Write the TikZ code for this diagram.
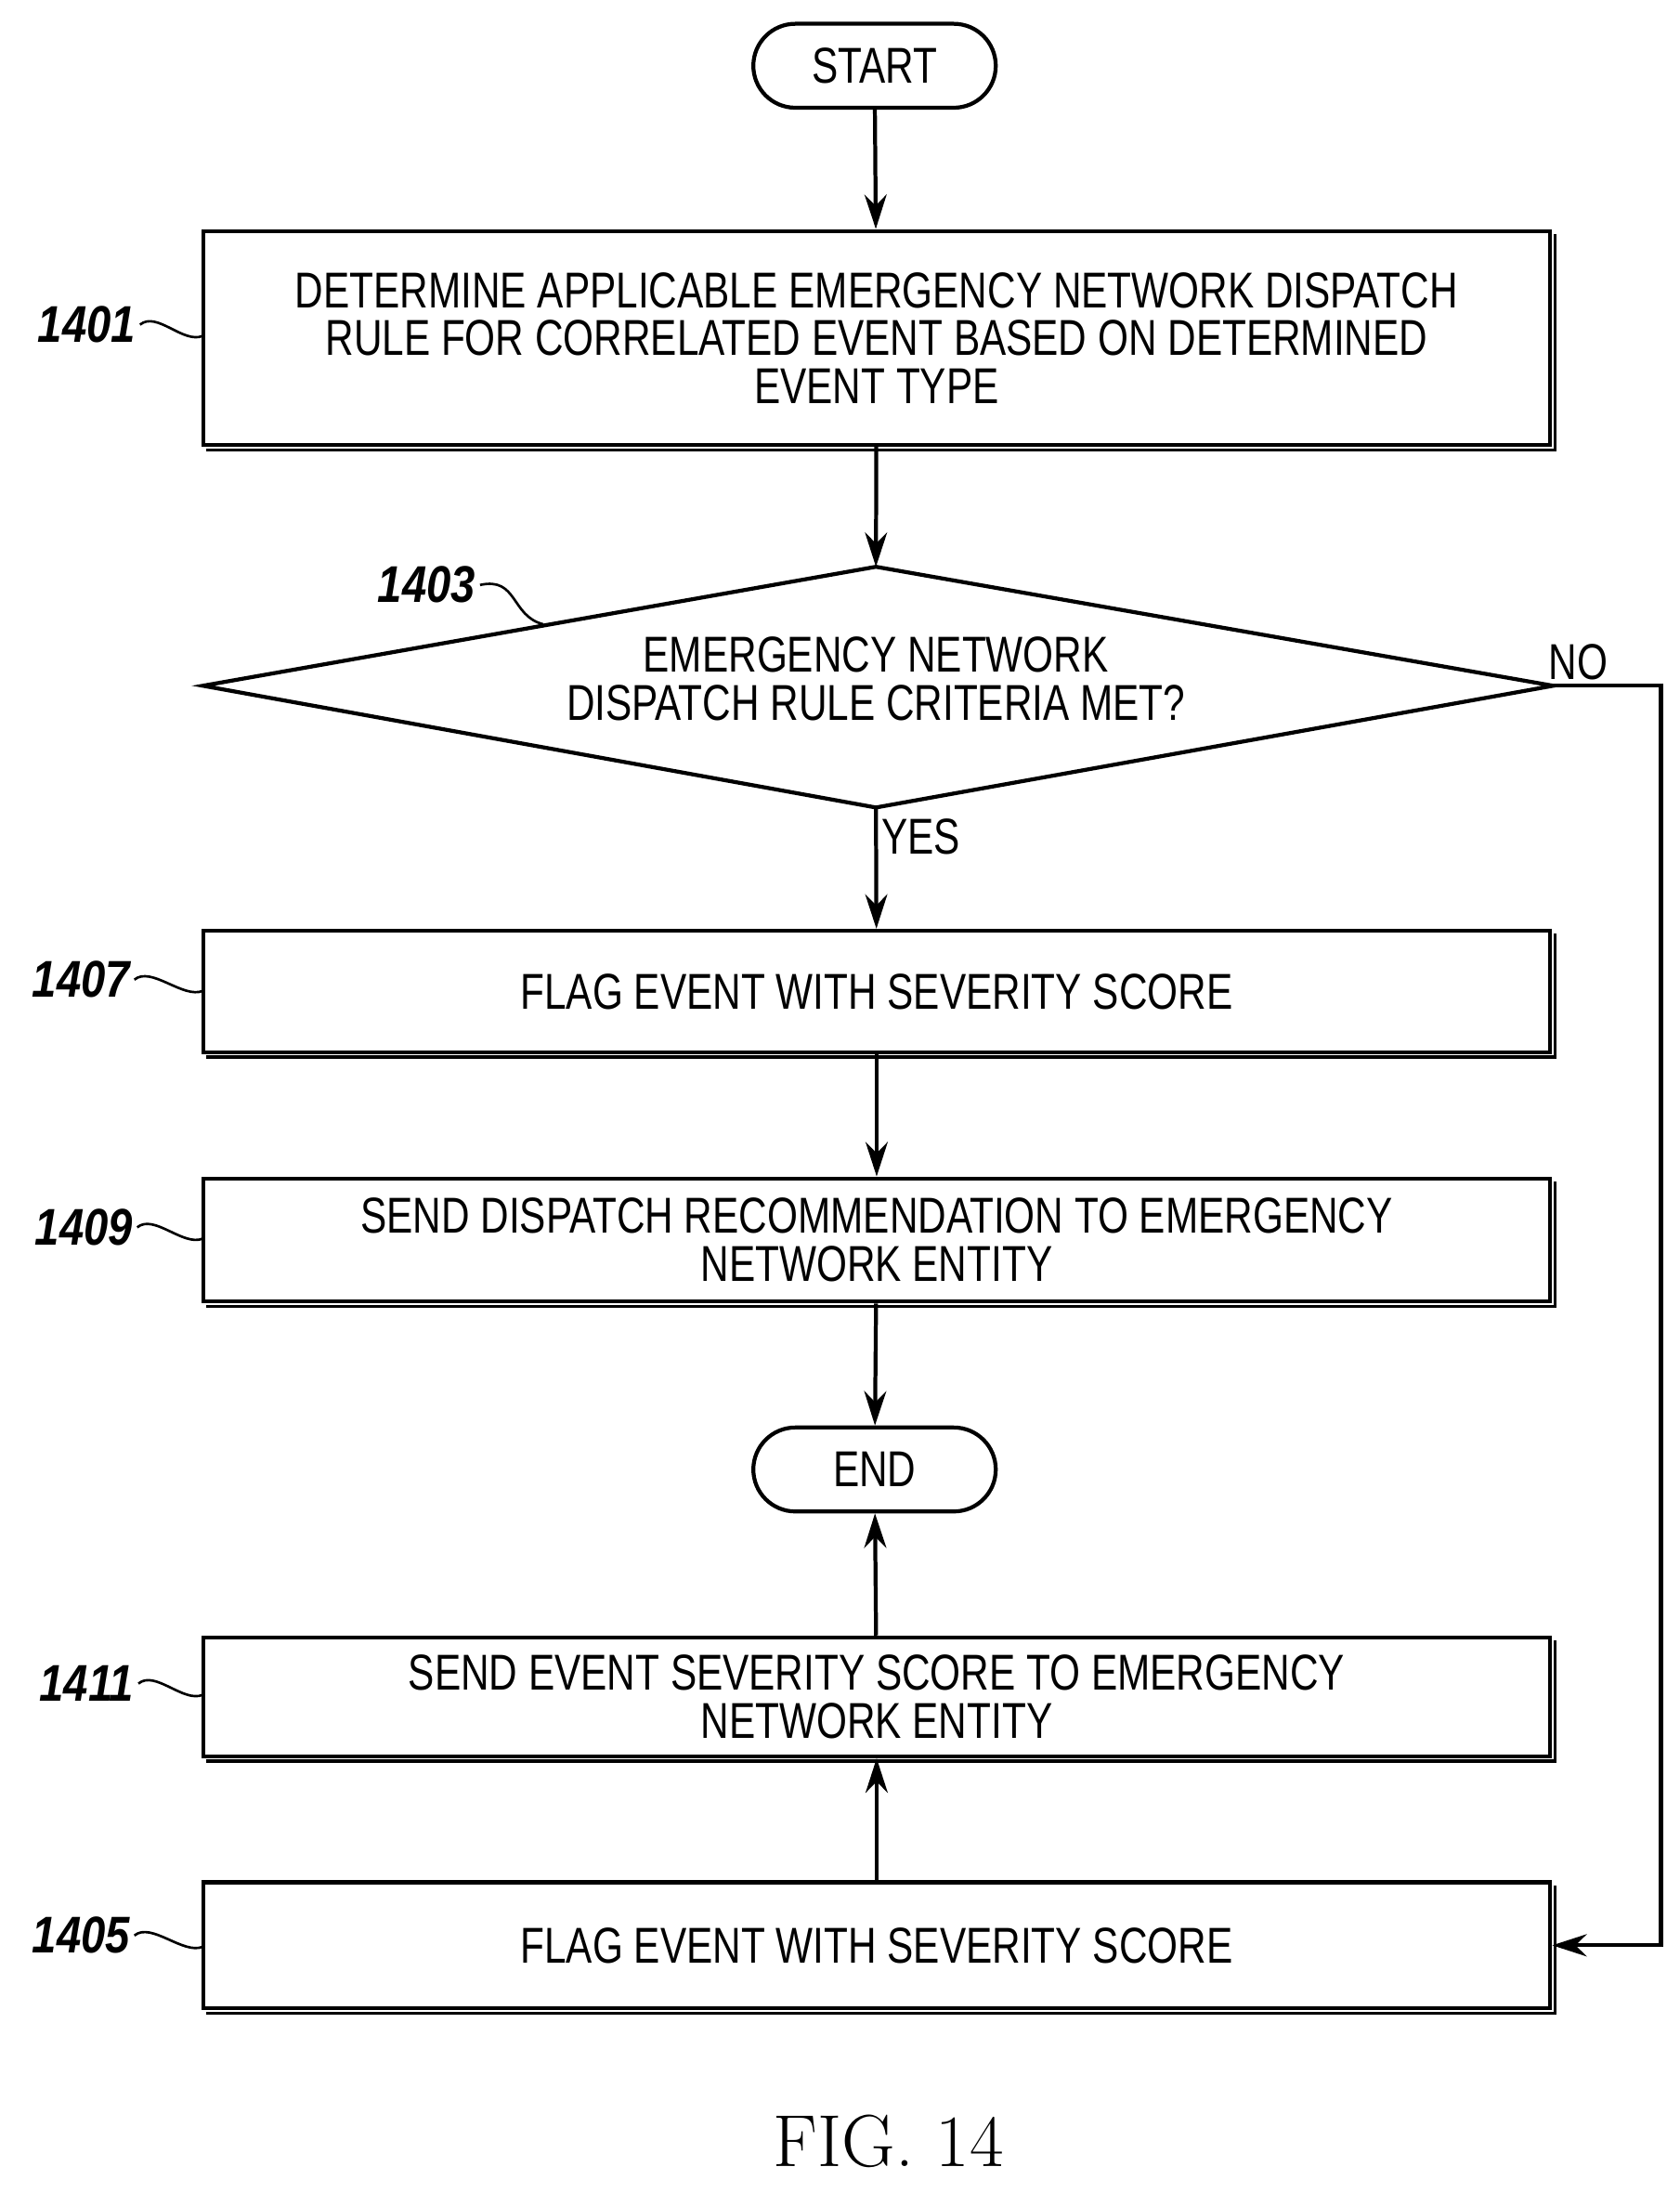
\documentclass[tikz,border=0pt]{standalone}
\usepackage{fontspec}
\usetikzlibrary{shapes.misc,arrows.meta,calc}
\newfontfamily\condf[FakeStretch=0.78]{Liberation Sans}
\newfontfamily\labf[FakeStretch=0.85]{Liberation Sans}
\begin{document}
\begin{tikzpicture}[x=0.02cm,y=-0.02cm,
 line width=1.6pt,
 box/.style={draw,rectangle,minimum width=19.26cm,align=center,font=\condf\fontsize{20.5}{19.5}\selectfont,inner sep=0pt},
 pill/.style={draw,rounded rectangle,minimum width=3.7cm,minimum height=1.2cm,font=\condf\fontsize{20.5}{24}\selectfont},
 lab/.style={font=\labf\itshape\bfseries\fontsize{21}{24}\selectfont,inner sep=1pt},
 sq/.style={line width=1pt},
 arr/.style={-{Stealth[length=14pt,width=9pt]}},
 txt/.style={font=\condf\fontsize{20.5}{24}\selectfont}]
\useasboundingbox (0,0) rectangle (1200,1567);
\newcommand{\shadow}[1]{\draw[line width=1.4pt] ([xshift=2pt,yshift=-1.2pt]#1.south west) -- ([xshift=1.2pt,yshift=-1.2pt]#1.south east) -- ([xshift=1.2pt,yshift=-2pt]#1.north east);}
\node[pill] (start) at (625,47) {START};
\node[box,minimum height=3.06cm] (b1) at (626.5,241.5) {DETERMINE APPLICABLE EMERGENCY NETWORK DISPATCH\\RULE FOR CORRELATED EVENT BASED ON DETERMINED\\EVENT TYPE};
\coordinate (dt) at (626,405); \coordinate (db) at (626,577);
\coordinate (dl) at (145,490); \coordinate (dr) at (1110,490);
\draw (dt) -- (dr) -- (db) -- (dl) -- cycle;
\node[txt,align=center,font=\condf\fontsize{20.5}{19.5}\selectfont] (dtext) at (626,485) {EMERGENCY NETWORK\\DISPATCH RULE CRITERIA MET?};
\node[box,minimum height=1.74cm] (b7) at (626.5,708.5) {FLAG EVENT WITH SEVERITY SCORE};
\node[box,minimum height=1.76cm] (b9) at (626.5,886) {SEND DISPATCH RECOMMENDATION TO EMERGENCY\\NETWORK ENTITY};
\node[pill] (end) at (625,1050) {END};
\node[box,minimum height=1.7cm] (b11) at (626.5,1212.5) {SEND EVENT SEVERITY SCORE TO EMERGENCY\\NETWORK ENTITY};
\node[box,minimum height=1.8cm] (b5) at (626.5,1390) {FLAG EVENT WITH SEVERITY SCORE};
\shadow{b1}\shadow{b7}\shadow{b9}\shadow{b11}\shadow{b5}
\draw[arr] (start) -- (b1);
\draw[arr] (b1) -- (dt);
\draw[arr] (db) -- (b7);
\draw[arr] (b7) -- (b9);
\draw[arr] (b9) -- (end);
\draw[arr] (b11) -- (end);
\draw[arr] (b5) -- (b11);
\coordinate (nc) at (1187,490);
\draw[arr] (dr) -- (nc) |- (b5.east);
\node[txt] (no) at (1128,473) {NO};
\node[txt] (yes) at (658,598) {YES};
\node[txt,font=\fontsize{30}{34}\selectfont] (fig) at (635,1530) {FIG. 14};
% labels
\node[lab] (l1401) at (62,232) {1401};
\node[lab] (l1403) at (305,418) {1403};
\node[lab] (l1407) at (58,700) {1407};
\node[lab] (l1409) at (60,877) {1409};
\node[lab] (l1411) at (62,1203) {1411};
\node[lab] (l1405) at (58,1383) {1405};
\coordinate (c1401) at (145,240); \coordinate (c1407) at (145,708);
\coordinate (c1409) at (145,885); \coordinate (c1411) at (145,1211);
\coordinate (c1405) at (145,1391); \coordinate (c1403) at (388,446);
\foreach \n in {1401,1407,1409,1411,1405}{
 \draw[sq] (l\n.east) .. controls ($(l\n.east)+(12,-10)$) and ($(c\n)+(-14,6)$) .. (c\n);}
\draw[sq] (l1403.east) .. controls (370,412) and (365,440) .. (c1403);
\end{tikzpicture}
\end{document}
